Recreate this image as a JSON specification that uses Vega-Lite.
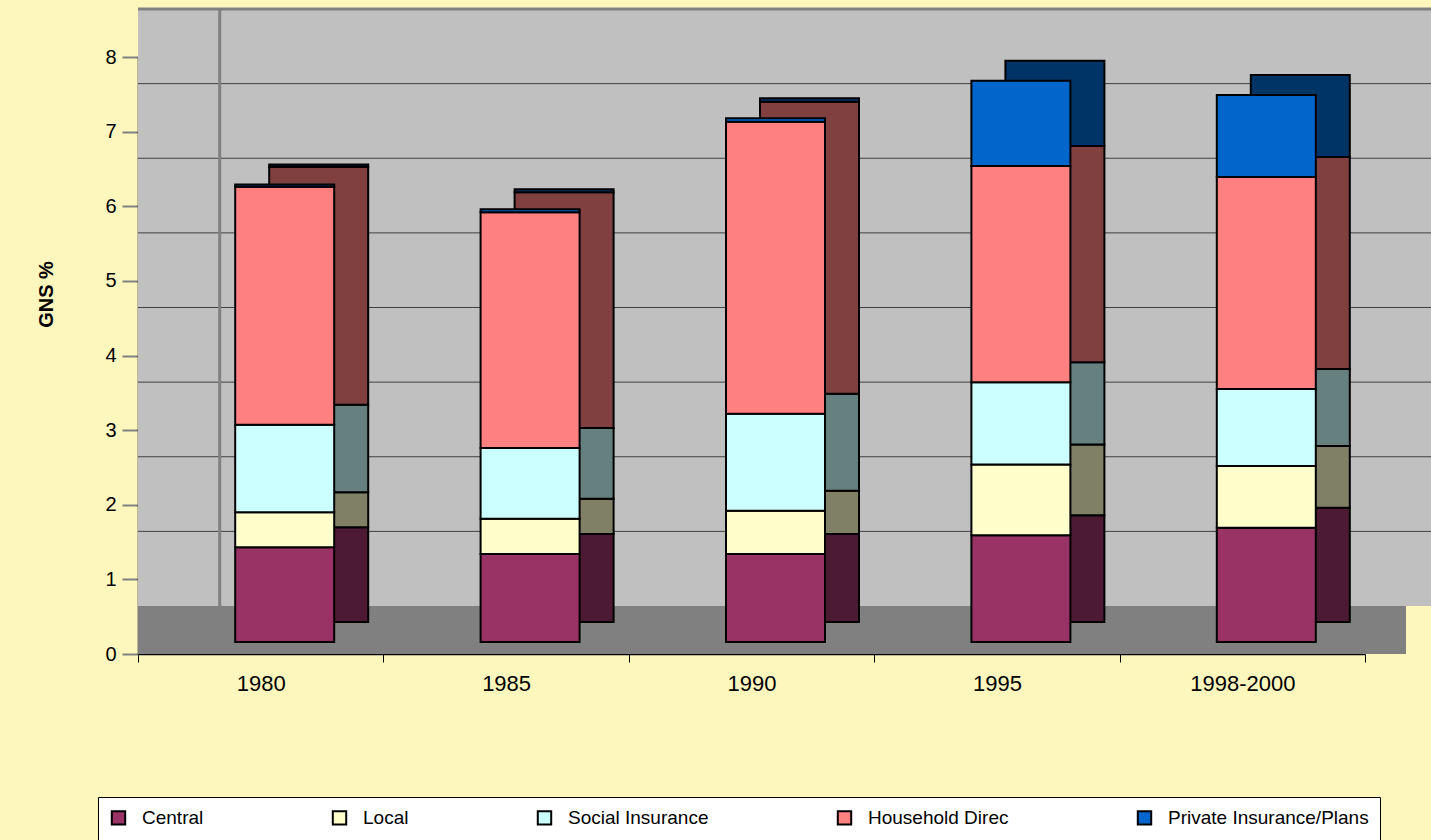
{
  "$schema": "https://vega.github.io/schema/vega-lite/v6.json",
  "width": 1227,
  "height": 597,
  "autosize": {"type": "none"},
  "padding": {"left": 138, "top": 57, "right": 66, "bottom": 186},
  "background": "#FDF7BE",
  "config": {
    "view": {"fill": "#C0C0C0", "stroke": null},
    "font": "Liberation Sans",
    "axis": {"grid": false, "labelColor": "black", "domainColor": "black", "domainWidth": 1.5},
    "axisX": {"labelAngle": 0, "labelFontSize": 22, "labelPadding": 11, "tickBand": "extent", "tickSize": 8, "tickColor": "black", "tickWidth": 1},
    "axisY": {"labelFontSize": 20, "labelPadding": 6, "tickColor": "#808080", "tickSize": 16, "tickWidth": 2,
              "titleFontSize": 20, "titleFontWeight": "bold", "titleColor": "black", "titleX": -92, "titleY": 237,
              "titleAlign": "center", "titleBaseline": "middle", "titleAngle": -90}
  },
  "datasets": {
    "main": [
      {"year": "1980", "sector": "Central", "k": 1, "value": 1.27},
      {"year": "1980", "sector": "Local", "k": 2, "value": 0.47},
      {"year": "1980", "sector": "Social Insurance", "k": 3, "value": 1.17},
      {"year": "1980", "sector": "Household Direc", "k": 4, "value": 3.19},
      {"year": "1980", "sector": "Private Insurance/Plans", "k": 5, "value": 0.03},
      {"year": "1985", "sector": "Central", "k": 1, "value": 1.18},
      {"year": "1985", "sector": "Local", "k": 2, "value": 0.47},
      {"year": "1985", "sector": "Social Insurance", "k": 3, "value": 0.95},
      {"year": "1985", "sector": "Household Direc", "k": 4, "value": 3.16},
      {"year": "1985", "sector": "Private Insurance/Plans", "k": 5, "value": 0.04},
      {"year": "1990", "sector": "Central", "k": 1, "value": 1.18},
      {"year": "1990", "sector": "Local", "k": 2, "value": 0.58},
      {"year": "1990", "sector": "Social Insurance", "k": 3, "value": 1.3},
      {"year": "1990", "sector": "Household Direc", "k": 4, "value": 3.91},
      {"year": "1990", "sector": "Private Insurance/Plans", "k": 5, "value": 0.05},
      {"year": "1995", "sector": "Central", "k": 1, "value": 1.43},
      {"year": "1995", "sector": "Local", "k": 2, "value": 0.95},
      {"year": "1995", "sector": "Social Insurance", "k": 3, "value": 1.1},
      {"year": "1995", "sector": "Household Direc", "k": 4, "value": 2.9},
      {"year": "1995", "sector": "Private Insurance/Plans", "k": 5, "value": 1.14},
      {"year": "1998-2000", "sector": "Central", "k": 1, "value": 1.53},
      {"year": "1998-2000", "sector": "Local", "k": 2, "value": 0.83},
      {"year": "1998-2000", "sector": "Social Insurance", "k": 3, "value": 1.03},
      {"year": "1998-2000", "sector": "Household Direc", "k": 4, "value": 2.84},
      {"year": "1998-2000", "sector": "Private Insurance/Plans", "k": 5, "value": 1.1}
    ]
  },
  "layer": [
    {
      "data": {"values": [{"lo": 0, "hi": 8}]},
      "mark": {"type": "rect", "color": "#C0C0C0", "xOffset": 82, "x2Offset": 82, "yOffset": -48, "y2Offset": -48},
      "encoding": {
        "y": {"field": "lo", "type": "quantitative", "scale": {"domain": [0, 8], "nice": false},
              "axis": {"title": "GNS %", "values": [0, 1, 2, 3, 4, 5, 6, 7, 8], "format": "d"}},
        "y2": {"field": "hi"}
      }
    },
    {
      "data": {"values": [{"lo": 0, "hi": 0.643}]},
      "mark": {"type": "rect", "color": "#808080", "xOffset": 41, "x2Offset": 41},
      "encoding": {
        "y": {"field": "lo", "type": "quantitative",
              "axis": {"title": "GNS %", "values": [0, 1, 2, 3, 4, 5, 6, 7, 8], "format": "d"}},
        "y2": {"field": "hi"}
      }
    },
    {
      "data": {"values": [{"g": 1}, {"g": 2}, {"g": 3}, {"g": 4}, {"g": 5}, {"g": 6}, {"g": 7}]},
      "mark": {"type": "rule", "color": "#404040", "strokeWidth": 1, "xOffset": 82, "x2Offset": 82, "yOffset": -48},
      "encoding": {"y": {"field": "g", "type": "quantitative",
                         "axis": {"title": "GNS %", "values": [0, 1, 2, 3, 4, 5, 6, 7, 8], "format": "d"}}}
    },
    {
      "data": {"values": [{"g": 8}]},
      "mark": {"type": "rule", "color": "#808080", "strokeWidth": 3, "xOffset": 82, "x2Offset": 82, "yOffset": -48},
      "encoding": {"y": {"field": "g", "type": "quantitative",
                         "axis": {"title": "GNS %", "values": [0, 1, 2, 3, 4, 5, 6, 7, 8], "format": "d"}}}
    },
    {
      "data": {"values": [{"lo": 0, "hi": 8, "year": "1980"}]},
      "mark": {"type": "rule", "color": "#808080", "strokeWidth": 3, "xOffset": -41, "yOffset": -48, "y2Offset": -48},
      "encoding": {
        "x": {"field": "year", "type": "nominal", "axis": {"title": null}},
        "y": {"field": "lo", "type": "quantitative",
              "axis": {"title": "GNS %", "values": [0, 1, 2, 3, 4, 5, 6, 7, 8], "format": "d"}},
        "y2": {"field": "hi"}
      }
    },
    {
      "data": {"name": "main"},
      "mark": {"type": "bar", "size": 99, "stroke": "black", "strokeWidth": 2, "xOffset": 58, "x2Offset": 58, "yOffset": -32, "y2Offset": -32},
      "encoding": {
        "x": {"field": "year", "type": "nominal", "scale": {"paddingInner": 0, "paddingOuter": 0}, "axis": {"title": null}},
        "y": {"field": "value", "type": "quantitative", "stack": "zero",
              "axis": {"title": "GNS %", "values": [0, 1, 2, 3, 4, 5, 6, 7, 8], "format": "d"}},
        "order": {"field": "k", "type": "quantitative"},
        "color": {
          "field": "sector", "type": "nominal", "legend": null,
          "scale": {
            "domain": ["Central", "Local", "Social Insurance", "Household Direc", "Private Insurance/Plans"],
            "range": ["#4D1A33", "#808066", "#668080", "#804040", "#003366"]
          }
        }
      }
    },
    {
      "data": {"name": "main"},
      "mark": {"type": "bar", "size": 99, "stroke": "black", "strokeWidth": 2, "xOffset": 24, "x2Offset": 24, "yOffset": -12, "y2Offset": -12},
      "encoding": {
        "x": {"field": "year", "type": "nominal", "scale": {"paddingInner": 0, "paddingOuter": 0}, "axis": {"title": null}},
        "y": {"field": "value", "type": "quantitative", "stack": "zero",
              "axis": {"title": "GNS %", "values": [0, 1, 2, 3, 4, 5, 6, 7, 8], "format": "d"}},
        "order": {"field": "k", "type": "quantitative"},
        "color": {
          "field": "sector", "type": "nominal",
          "scale": {
            "domain": ["Central", "Local", "Social Insurance", "Household Direc", "Private Insurance/Plans"],
            "range": ["#993366", "#FFFFCC", "#CCFFFF", "#FF8080", "#0066CC"]
          },
          "legend": {
            "orient": "none", "legendX": -40, "legendY": 740, "direction": "horizontal",
            "title": null, "fillColor": "white", "strokeColor": "black", "padding": 11,
            "symbolType": "square", "symbolSize": 180, "symbolStrokeColor": "black", "symbolStrokeWidth": 2,
            "symbolOpacity": 1, "labelFontSize": 19, "labelColor": "black", "labelOffset": 14,
            "columnPadding": 124, "labelLimit": 400
          }
        }
      }
    }
  ],
  "resolve": {"scale": {"color": "independent"}}
}
